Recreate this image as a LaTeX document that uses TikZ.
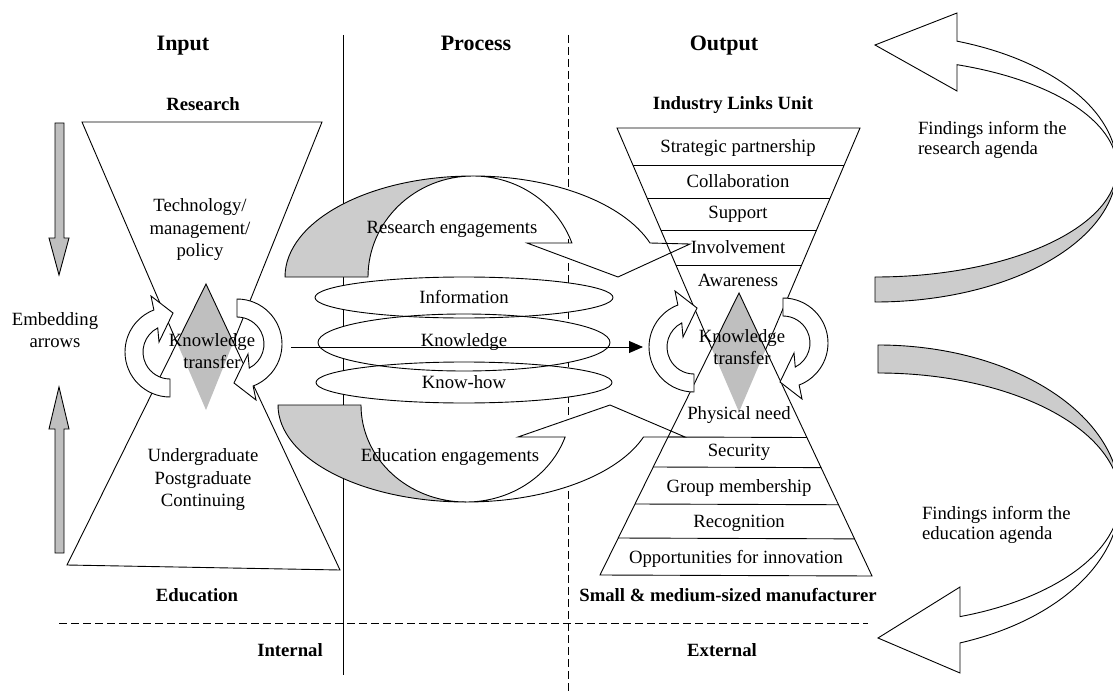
\documentclass[tikz,border=0pt]{standalone}
\usepackage{fontspec}
\setmainfont{Liberation Serif}
\usetikzlibrary{arrows.meta,calc,shapes.geometric}
\newcommand{\embedarrow}[3]{%
  \begin{scope}[shift={(#1,#2)}, rotate=#3]
    \draw[wfill] (90:45) arc[start angle=90, end angle=249, radius=45]
      -- (-19,-56) -- (3,-39) -- (-11,-10) -- (243:27)
      arc[start angle=243, end angle=90, radius=27] -- cycle;
  \end{scope}}
\begin{document}
\begin{tikzpicture}[x=1pt,y=-1pt,
  every node/.style={inner sep=0pt, outer sep=0pt},
  txt/.style={font=\fontsize{18.7}{22.5}\selectfont, align=center},
  btxt/.style={font=\fontsize{18.7}{22.5}\selectfont\bfseries, align=center},
  hdr/.style={font=\fontsize{22}{26}\selectfont\bfseries, anchor=base},
  ftxt/.style={font=\fontsize{18.7}{20}\selectfont, align=left, anchor=west},
  thinline/.style={line width=0.9pt, line join=miter},
  divider/.style={line width=0.9pt, dash pattern=on 8pt off 4pt},
  grayband/.style={thinline, fill=gray!40},
  wfill/.style={thinline, fill=white},
  diagray/.style={fill=gray!50},
  vgray/.style={thinline, fill=gray!50},
  ell/.style={ellipse, draw, line width=0.9pt, txt},
]
\useasboundingbox (0,0) rectangle (1113,695);
\clip (0,0) rectangle (1113,695);

% ---------- dividers ----------
\coordinate (vs1) at (343,35); \coordinate (vs2) at (343,675);
\draw[thinline] (vs1) -- (vs2);
\coordinate (vd1) at (568,35); \coordinate (vd2) at (568,695);
\draw[divider] (vd1) -- (vd2);
\coordinate (hd1) at (59,623); \coordinate (hd2) at (868,623);
\draw[divider] (hd1) -- (hd2);

% ---------- process ellipses ----------
\fill[white] (464,297.5) ellipse [x radius=149, y radius=20.5];
\fill[white] (464,342.5) ellipse [x radius=146, y radius=28.5];
\fill[white] (464,382.5) ellipse [x radius=148, y radius=20.5];
\node[ell, minimum width=298pt, minimum height=41pt] (info) at (464,297.5) {Information};
\node[ell, minimum width=292pt, minimum height=57pt] (know) at (464,342.5) {Knowledge};
\node[ell, minimum width=296pt, minimum height=41pt] (knowhow) at (464,382.5) {Know-how};

% knowledge arrow
\coordinate (ka) at (291,347); \coordinate (kb) at (643,347);
\draw[thinline, -{Triangle[length=14pt,width=12pt]}] (ka) -- (kb);

% ---------- research engagements arrow ----------
\begin{scope}[shift={(473,277)}]
  \draw[grayband] (-188,0) arc[start angle=180,end angle=270,x radius=188,y radius=101]
    arc[start angle=270,end angle=180,x radius=105,y radius=101] -- cycle;
  \draw[wfill] (0,-101) arc[start angle=270,end angle=340.33,x radius=105,y radius=101]
    -- (54,-34) -- (145,0) -- (217,-33) -- (177,-34)
    arc[start angle=340.33,end angle=270,x radius=188,y radius=101] -- cycle;
\end{scope}

% ---------- education engagements arrow ----------
\begin{scope}[shift={(466,405)}]
  \draw[grayband] (-188,0) arc[start angle=180,end angle=90,x radius=188,y radius=97]
    arc[start angle=90,end angle=180,x radius=105,y radius=97] -- cycle;
  \draw[wfill] (0,97) arc[start angle=90,end angle=19.26,x radius=105,y radius=97]
    -- (52,32) -- (144,0) -- (219,32) -- (177.5,32)
    arc[start angle=19.26,end angle=90,x radius=188,y radius=97] -- cycle;
\end{scope}

% ---------- left hourglass ----------
\coordinate (LT1) at (82,122); \coordinate (LT2) at (322,122); \coordinate (LTA) at (206,410);
\coordinate (LB1) at (67,565); \coordinate (LB2) at (340,570); \coordinate (LBA) at (206,284);
\coordinate (LXL) at (intersection of LT1--LTA and LB1--LBA);
\coordinate (LXR) at (intersection of LT2--LTA and LB2--LBA);
\fill[diagray] (LBA) -- (LXL) -- (LTA) -- (LXR) -- cycle;
\draw[thinline] (LXL) -- (LT1) -- (LT2) -- (LXR);
\draw[thinline] (LB1) -- (LBA) -- (LB2) -- cycle;

% ---------- right hourglass ----------
\coordinate (RT1) at (617,128); \coordinate (RT2) at (860,128); \coordinate (RTA) at (739,412);
\coordinate (RB1) at (600,575); \coordinate (RB2) at (872,576); \coordinate (RBA) at (739,293);
\coordinate (RXL) at (intersection of RT1--RTA and RB1--RBA);
\coordinate (RXR) at (intersection of RT2--RTA and RB2--RBA);
\fill[diagray] (RBA) -- (RXL) -- (RTA) -- (RXR) -- cycle;
\draw[thinline] (RXL) -- (RT1) -- (RT2) -- (RXR);
\draw[thinline] (RB1) -- (RBA) -- (RB2) -- cycle;
\foreach \t in {0.1303,0.2465,0.3592,0.4824}
  \draw[thinline] ($(RT1)!\t!(RTA)$) -- ($(RT2)!\t!(RTA)$);
\foreach \t in {0.5106,0.617,0.7482,0.8688}
  \draw[thinline] ($(RBA)!\t!(RB1)$) -- ($(RBA)!\t!(RB2)$);

% ---------- embedding circular arrows ----------
\embedarrow{170}{352}{0}
\embedarrow{237}{344}{180}
\embedarrow{694}{347}{0}
\embedarrow{783}{343}{180}

% ---------- vertical gray arrows ----------
\draw[vgray] (55,123) -- (64,123) -- (64,238) -- (69,238) -- (59,275) -- (49,238) -- (55,238) -- cycle;
\draw[vgray] (59,387) -- (69,429) -- (64,429) -- (64,553) -- (55,553) -- (55,429) -- (49,429) -- cycle;

% ---------- findings arrows (right) ----------
\begin{scope}[shift={(875,167.6)}]
  \draw[grayband] (0,134.4) arc[start angle=90,end angle=0,x radius=242,y radius=134.4]
    arc[start angle=0,end angle=90,x radius=242,y radius=109.4] -- cycle;
  \draw[wfill] (242,0) arc[start angle=0,end angle=-70.2,x radius=242,y radius=134.4]
    -- (82,-154.6) -- (0,-122.6) -- (82,-76.6) -- (82,-102.9)
    arc[start angle=-70.2,end angle=0,x radius=242,y radius=109.4] -- cycle;
\end{scope}
\begin{scope}[shift={(878,498.5)}]
  \draw[grayband] (0,-153.5) arc[start angle=270,end angle=360,x radius=242,y radius=153.5]
    arc[start angle=360,end angle=270,x radius=242,y radius=125.5] -- cycle;
  \draw[wfill] (242,0) arc[start angle=0,end angle=70.2,x radius=242,y radius=153.5]
    -- (82,174.5) -- (0,139.5) -- (82,88.5) -- (82,118.1)
    arc[start angle=70.2,end angle=0,x radius=242,y radius=125.5] -- cycle;
\end{scope}

% ---------- texts ----------
\node[hdr] (input) at (183,51) {Input};
\node[hdr] (process) at (476,51) {Process};
\node[hdr] (output) at (724,51) {Output};

\node[btxt] (research) at (203,104) {Research};
\node[btxt] (ilu) at (733,105) {Industry Links Unit};
\node[txt] (tech) at (200,230) {Technology/\\management/\\policy};
\node[txt] (embed) at (55,330) {Embedding\\arrows};
\node[txt] (ktl) at (212,351) {Knowledge\\transfer};
\node[txt] (ktr) at (742,347) {Knowledge\\transfer};
\node[txt] (courses) at (203,480) {Undergraduate\\Postgraduate\\Continuing};
\node[btxt] (education) at (197,595) {Education};
\node[btxt] (smm) at (728,595) {Small \& medium-sized manufacturer};
\node[btxt] (internal) at (290,650) {Internal};
\node[btxt] (external) at (722,650) {External};

\node[txt] (reng) at (452,229) {Research engagements};
\node[txt] (eeng) at (450,457) {Education engagements};

\node[txt] (l1) at (738,148) {Strategic partnership};
\node[txt] (l2) at (738,181) {Collaboration};
\node[txt] (l3) at (738,214) {Support};
\node[txt] (l4) at (738,247) {Involvement};
\node[txt] (l5) at (738,280) {Awareness};
\node[txt] (p1) at (739,415) {Physical need};
\node[txt] (p2) at (739,452) {Security};
\node[txt] (p3) at (739,488) {Group membership};
\node[txt] (p4) at (739,523) {Recognition};
\node[txt] (p5) at (736,559) {Opportunities for innovation};

\node[ftxt] (fr) at (918,140) {Findings inform the\\research agenda};
\node[ftxt] (fe) at (922,525) {Findings inform the\\education agenda};
\end{tikzpicture}
\end{document}
